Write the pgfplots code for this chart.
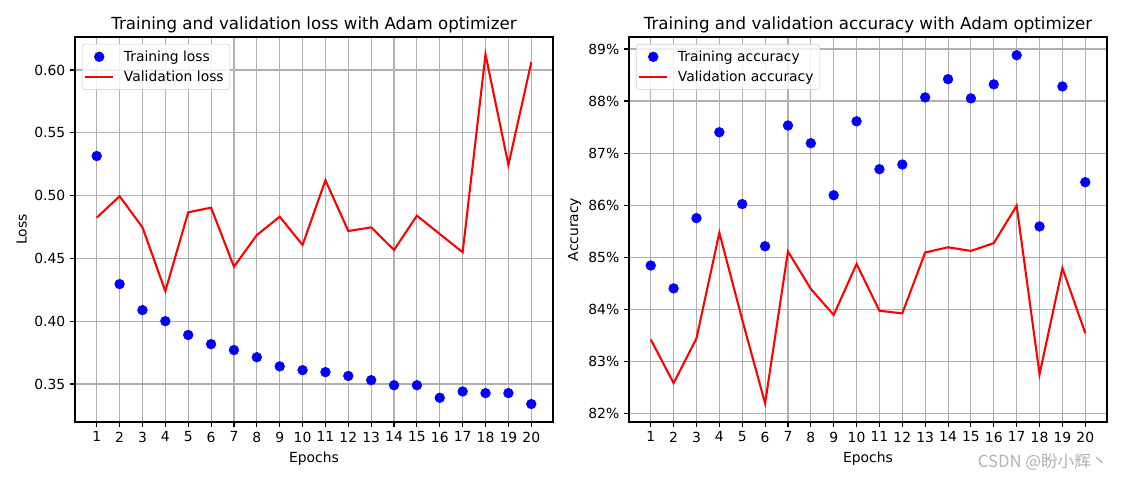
\documentclass[border=0pt]{standalone}
\usepackage{pgfplots}
\pgfplotsset{compat=1.18}
\usepackage{fontspec}
\setmainfont{DejaVu Sans}
\newfontfamily\cjk{Noto Sans CJK SC}
\definecolor{gridc}{HTML}{B0B0B0}
\definecolor{legc}{HTML}{CCCCCC}
\definecolor{mblue}{HTML}{0000FF}
\definecolor{mred}{HTML}{FF0000}
\pgfplotsset{
  myax/.style={
    scale only axis, width=344.16pt, height=277.2pt,
    xmin=0.05, xmax=20.95,
    xtick={1,...,20},
    grid=major, major grid style={gridc, line width=0.8pt},
    axis line style={line width=0.8pt},
    tick style={black, line width=0.8pt},
    tick align=outside, major tick length=3.5pt,
    tick pos=left,
    /pgf/number format/assume math mode=true,
    ticklabel style={font=\fontsize{10}{12}\selectfont},
    label style={font=\fontsize{10}{12}\selectfont},
    ylabel style={xshift=0pt, yshift=-1.5pt},
    title style={font=\fontsize{12}{14}\selectfont, yshift=-6.5pt},
    legend style={at={(0,1)}, anchor=north west, xshift=5pt, yshift=-5pt,
      draw=legc, rounded corners=2pt, fill=white, fill opacity=0.8, text opacity=1,
      font=\fontsize{10}{12}\selectfont, inner xsep=1.5pt, inner ysep=3.5pt,
      row sep=3.5pt, column sep=4pt, nodes={inner xsep=3pt, inner ysep=1pt}},
    legend cell align=left,
  },
  trn/.style={only marks, mark=*, mark size=3.5pt, color=mblue, mark options={draw=mblue, fill=mblue},
    legend image code/.code={\path[draw=none] (0pt,0pt) -- (20pt,0pt);
      \draw[##1, mark=*, only marks, fill opacity=1, draw opacity=1] plot coordinates {(10pt,0pt)};},
  },
  val/.style={color=mred, line width=1.5pt, mark=none,
    legend image code/.code={\draw[##1, draw opacity=1] (0pt,0pt) -- (20pt,0pt);}},
}
\begin{document}
\begin{tikzpicture}
\path[use as bounding box] (-54pt,-41.76pt) rectangle (753.84pt,303.84pt);
\begin{axis}[myax,
  at={(0pt,0pt)}, anchor=south west,
  ymin=0.3197, ymax=0.6263,
  ytick={0.35,0.40,0.45,0.50,0.55,0.60},
  yticklabel style={/pgf/number format/.cd, fixed, fixed zerofill, precision=2},
  title={Training and validation loss with Adam optimizer},
  xlabel={Epochs}, ylabel={Loss},
]
\addplot[trn] coordinates {
(1,0.5315) (2,0.4295) (3,0.4088) (4,0.4000) (5,0.3890) (6,0.3817) (7,0.3770)
(8,0.3713) (9,0.3640) (10,0.3610) (11,0.3594) (12,0.3564) (13,0.3530)
(14,0.3490) (15,0.3490) (16,0.3390) (17,0.3440) (18,0.3427) (19,0.3427) (20,0.3340)};
\addlegendentry{Training loss}
\addplot[val] coordinates {
(1,0.4824) (2,0.4995) (3,0.4747) (4,0.4239) (5,0.4867) (6,0.4904) (7,0.4434)
(8,0.4685) (9,0.4832) (10,0.4607) (11,0.5122) (12,0.4718) (13,0.4747)
(14,0.4567) (15,0.4840) (16,0.4694) (17,0.4549) (18,0.6125) (19,0.5244) (20,0.6061)};
\addlegendentry{Validation loss}
\end{axis}
\begin{axis}[myax,
  at={(398.88pt,0pt)}, anchor=south west,
  ymin=81.833, ymax=89.23,
  ytick={82,83,84,85,86,87,88,89},
  yticklabels={82\%,83\%,84\%,85\%,86\%,87\%,88\%,89\%},
  title={Training and validation accuracy with Adam optimizer},
  xlabel={Epochs}, ylabel={Accuracy},
]
\addplot[trn] coordinates {
(1,84.84) (2,84.40) (3,85.75) (4,87.40) (5,86.02) (6,85.21) (7,87.53)
(8,87.19) (9,86.19) (10,87.61) (11,86.69) (12,86.78) (13,88.07)
(14,88.42) (15,88.05) (16,88.32) (17,88.88) (18,85.59) (19,88.28) (20,86.44)};
\addlegendentry{Training accuracy}
\addplot[val] coordinates {
(1,83.42) (2,82.58) (3,83.44) (4,85.47) (5,83.80) (6,82.19) (7,85.11)
(8,84.39) (9,83.89) (10,84.87) (11,83.97) (12,83.92) (13,85.09)
(14,85.19) (15,85.12) (16,85.27) (17,85.99) (18,82.75) (19,84.79) (20,83.54)};
\addlegendentry{Validation accuracy}
\end{axis}
\node[anchor=base east, text=gray!60, font=\cjk\fontsize{12}{14}\selectfont, inner sep=0pt]
  at (743.76pt,-33.1pt) {CSDN @盼小辉丶};
\end{tikzpicture}
\end{document}
